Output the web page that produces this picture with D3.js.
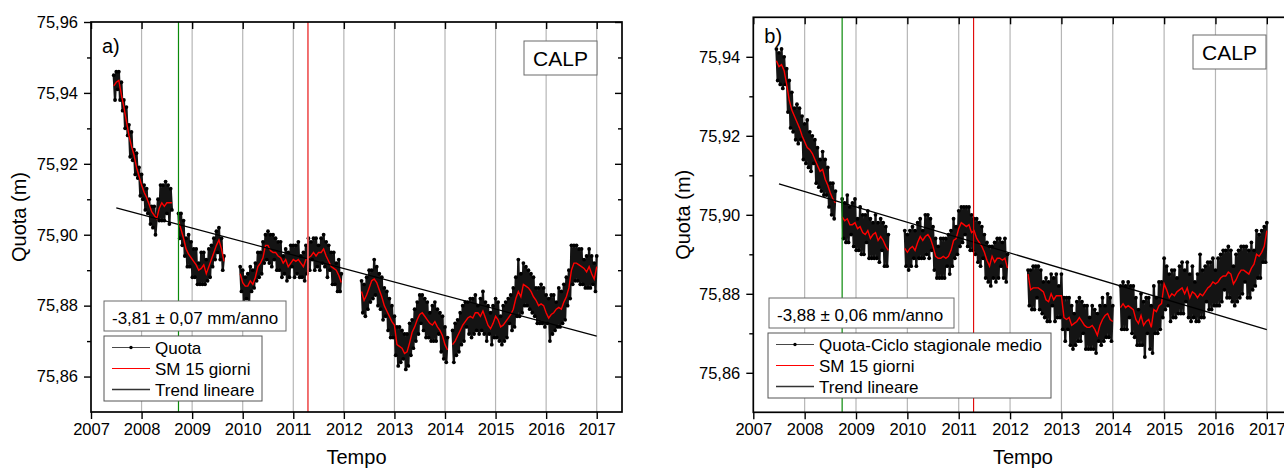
<!DOCTYPE html>
<html>
<head>
<meta charset="utf-8">
<script src="https://cdn.jsdelivr.net/npm/d3@7"></script>
<style>
  body { margin: 0; background: #fff; }
  svg text { font-family: "Liberation Sans", Arial, sans-serif; fill: #000; }
</style>
</head>
<body>
<svg id="fig" width="1284" height="470"></svg>
<script>
// Quote espresse in mm sopra 75,800 m
const QUOTA_BASE = 75.8;
const PASSO_SM = 0.05;    // anni tra due valori della media mobile
const PASSO_RAW = 0.025;  // anni tra due valori di quota

// Inizio (anno decimale) dei tratti continui di dati
const tratti = [2007.45, 2008.73, 2009.95, 2012.35, 2014.15];

// Pannello a) - media mobile 15 giorni (mm)
const smA = [
  [142,143,143.5,139.5,136,132,128,125,122.5,119,116.5,114,112,110.5,108.5,106.5,105.5,104.5,107.5,109,108,109,109,109],
  [104,101.5,99,96,94.5,93.5,92.5,91.5,90,90.5,91.5,89,91,93,95,97,98.5,96,92.5],
  [89,86.5,85.5,85.5,87,86,88,91,92,93.5,97,97,95.5,95,95,94,93.5,92,93,91,92,93,92.5,93,92,91,93,93.5,94,95,94,95,95,96,94,92.5,91,90.5,90,88.5,86.5],
  [84,81.5,83,85,87,87.5,86.5,84.5,82.5,80,78.5,77,75.5,74.5,69,68.5,68,66.5,67,69.5,72.5,74,76,77.5,78,77,76,75,74.5,75.5,74,73,71.5,69,67.5],
  [69,70,71.5,73,74.5,75.5,76.5,77,76.5,78,78,77,78.5,76.5,74.5,73.5,75,77,76,74,74.5,75.5,76.5,77.5,79,82,84,82.5,86,85.5,85,84,82.5,81.5,80,80.5,80,78,76.5,77.5,78,79,79.5,79,81,82.5,85,90,92,92,91.5,91,90.5,89.5,91,89,87.5,91]
];

// Pannello a) - quota (mm)
const quotaA = [
  [145,138,146,141,146,138,143,135,138,130,136,128,131,122,129,121,124,117,123,116,119,111,117,110,114,107,113,106,110,103,108,102,108,100,105,110,104,114,104,114,104,115,106,114,103,113,107],
  [106,99,106,97,104,94,99,91,100,91,98,88,96,88,96,86,92,86,95,86,95,86,93,87,96,88,97,91,99,93,101,95,102,93,99,90,94],
  [91,84,90,81,88,82,89,81,91,84,90,85,92,87,95,88,95,89,98,92,100,93,101,92,100,91,100,93,99,90,98,90,98,88,94,89,96,87,95,88,97,91,97,88,97,89,98,88,94,88,95,87,97,89,99,90,98,93,99,90,99,91,97,90,99,92,100,91,98,88,97,90,95,86,95,86,92,84,93,84,89],
  [87,78,86,77,88,79,90,81,90,82,93,83,91,80,89,79,88,76,85,77,84,73,82,71,80,71,77,66,74,63,74,64,73,65,72,62,72,63,75,66,76,68,79,70,81,72,83,75,83,73,82,71,81,71,78,70,80,70,81,70,79,72,78,67,77,65,74,64,71],
  [73,64,75,66,76,67,78,69,80,70,81,74,81,72,82,71,82,72,83,73,80,72,82,73,84,72,81,70,80,72,78,69,80,71,82,71,81,70,77,69,80,70,81,71,82,75,83,73,85,74,88,77,93,77,89,78,92,80,91,80,90,79,89,78,88,77,85,75,85,75,86,75,85,74,83,75,82,70,83,72,83,73,81,74,85,74,84,75,86,76,88,80,90,82,97,86,97,87,97,87,96,86,96,86,93,85,94,85,96,85,94,86,92,84,94]
];

// Pannello b) - media mobile 15 giorni (mm)
const smB = [
  [139,137.5,138,136.5,133,129,126.5,125,123.5,122,120,118.5,117,116.5,115.5,114,112.5,111,111.5,109,107.5,105.5,104,103],
  [99.5,98.5,99,97.5,97.5,98,96.5,97,95.5,95,96,94,95,95.5,93.5,94.5,93.5,92,91],
  [91.5,90.5,91.5,92,91,93,94.5,93.5,94.5,95,94,92,89.5,89,89,89.5,89,89.5,91,93.5,94,96.5,98,97.5,97,97.5,95.5,96,94,93,92,90.5,88.5,87,89.5,88,89,89,88.5,89,86.5],
  [85,81,81.5,81.5,81.5,81,80.5,78.5,78,80,78.5,79.5,79.5,79.5,74,73.5,74,72,72.5,73,74,73,72,71.5,71.5,72,71,69.5,72,73.5,74.5,75,73.5,73],
  [76.5,77.5,76.5,77,76.5,76,73.5,72.5,74.5,72,73,73.5,71.5,76,75.5,77,77.5,82.5,81,79,80,79.5,80.5,81,81.5,80,81.5,79,80.5,80,79,80,79.5,80.5,81.5,82,83,82.5,83,84,84.5,84.5,85.5,85,82.5,83.5,85,86,86,85.5,85,86.5,87.5,90,89.5,90.5,92,96]
];

// Pannello b) - quota meno ciclo stagionale medio (mm)
const quotaB = [
  [142,134,141,133,142,132,140,133,137,126,134,122,131,121,127,119,128,118,127,119,125,114,123,113,124,112,121,111,120,113,119,108,117,107,114,106,116,105,114,105,112,102,108,100,108,99,106],
  [104,94,103,93,105,93,102,95,103,92,104,91,99,91,102,90,100,90,100,93,101,89,99,89,98,89,100,89,98,88,99,91,98,87,97,87,95],
  [96,87,95,86,96,87,97,89,96,87,98,89,99,89,96,89,100,90,100,89,99,91,97,86,94,84,92,84,94,84,94,84,94,87,95,85,96,87,99,89,97,90,101,92,102,93,102,95,102,92,102,91,100,91,99,90,99,88,98,87,97,89,95,84,93,83,92,82,92,84,93,83,94,84,94,87,93,84,94,83,90],
  [86,77,86,76,87,76,87,79,87,76,86,75,83,74,84,73,83,73,85,77,84,73,85,74,82,74,85,71,79,68,79,71,79,67,77,66,75,67,78,68,79,68,78,70,77,66,77,66,74,66,77,66,76,65,75,68,77,67,79,68,77,69,80,69,79,68,77],
  [82,71,83,71,82,71,83,74,82,70,82,69,79,67,76,67,80,67,78,64,79,70,79,66,77,65,82,70,79,70,83,71,83,74,89,76,87,77,85,73,86,74,86,74,84,75,87,75,88,75,86,78,88,74,85,73,87,74,83,73,85,73,90,74,86,74,87,78,88,76,88,76,89,77,86,77,89,77,90,78,91,81,91,79,92,79,91,78,87,77,90,78,91,79,92,80,92,83,92,79,91,79,93,81,91,82,96,84,95,84,96,88,97,88,98]
];

// Trend lineare: quota iniziale (m) e velocità (mm/anno)
const trendInizio = 2007.5, trendFine = 2017.0;
const trendQuotaA = 75.9076, velocitaA = -3.81, erroreA = 0.07;
const trendQuotaB = 75.9078, velocitaB = -3.88, erroreB = 0.06;

// Linee verticali di riferimento
const eventoVerde = 2008.73, eventoRosso = 2011.29;

const anniTick = [2007,2008,2009,2010,2011,2012,2013,2014,2015,2016,2017];
const yTickA = [75.86,75.88,75.90,75.92,75.94,75.96];
const yMinoriA = [75.87,75.89,75.91,75.93,75.95];
const yTickB = [75.86,75.88,75.90,75.92,75.94];
const yMinoriB = [75.87,75.89,75.91,75.93];

const svg = d3.select("#fig");
const virgola = v => d3.format(".2f")(v).replace("\u2212", "-").replace(".", ",");
const mm2m = v => QUOTA_BASE + v / 1000;

function pannello(c) {
  const g = svg.append("g");
  const x = d3.scaleLinear().domain([2007, 2017.5]).range([c.left, c.right]);
  const y = d3.scaleLinear().domain(c.yDom).range([c.bottom, c.top]);

  // griglia verticale sugli anni
  g.append("g").selectAll("line").data(anniTick.slice(1)).join("line")
    .attr("x1", d => x(d)).attr("x2", d => x(d))
    .attr("y1", c.top).attr("y2", c.bottom)
    .attr("stroke", "#b6b6b6").attr("stroke-width", 1.2);

  g.append("clipPath").attr("id", "clip" + c.id).append("rect")
    .attr("x", c.left).attr("y", c.top)
    .attr("width", c.right - c.left).attr("height", c.bottom - c.top);
  const area = g.append("g").attr("clip-path", `url(#clip${c.id})`);

  // quota: linea con punti
  c.quota.forEach((seg, s) => {
    const pts = seg.map((v, i) => [tratti[s] + i * PASSO_RAW, mm2m(v)]);
    area.append("path").datum(pts)
      .attr("d", d3.line().x(d => x(d[0])).y(d => y(d[1])))
      .attr("fill", "none").attr("stroke", "#141414").attr("stroke-width", 2.3)
      .attr("stroke-linejoin", "round");
    area.append("g").selectAll("circle").data(pts).join("circle")
      .attr("cx", d => x(d[0])).attr("cy", d => y(d[1]))
      .attr("r", 1.9).attr("fill", "#000");
  });

  // media mobile 15 giorni
  c.sm.forEach((seg, s) => {
    const pts = seg.map((v, i) => [tratti[s] + i * PASSO_SM, mm2m(v)]);
    area.append("path").datum(pts)
      .attr("d", d3.line().x(d => x(d[0])).y(d => y(d[1])))
      .attr("fill", "none").attr("stroke", "#ff0000").attr("stroke-width", 1.4);
  });

  // trend lineare
  const qFine = c.trendQuota + c.velocita * (trendFine - trendInizio) / 1000;
  area.append("line")
    .attr("x1", x(trendInizio)).attr("y1", y(c.trendQuota))
    .attr("x2", x(trendFine)).attr("y2", y(qFine))
    .attr("stroke", "#000").attr("stroke-width", 1.3);

  // linee verticali di riferimento
  g.append("line").attr("x1", x(eventoVerde)).attr("x2", x(eventoVerde))
    .attr("y1", c.top).attr("y2", c.bottom)
    .attr("stroke", "#0a8a0a").attr("stroke-width", 1.2);
  g.append("line").attr("x1", x(eventoRosso)).attr("x2", x(eventoRosso))
    .attr("y1", c.top).attr("y2", c.bottom)
    .attr("stroke", c.coloreRosso).attr("stroke-width", c.spessoreRosso);

  // assi
  const stile = sel => {
    sel.attr("font-family", null).attr("font-size", null);
    sel.select(".domain").remove();
    sel.selectAll(".tick line").attr("stroke", "#000").attr("stroke-width", 1.4);
    sel.selectAll(".tick text").style("font-size", "16.5px");
  };
  g.append("g").attr("transform", `translate(0,${c.bottom})`)
    .call(d3.axisBottom(x).tickValues(anniTick).tickFormat(d3.format("d")).tickSize(7).tickPadding(4))
    .call(stile);
  g.append("g").attr("transform", `translate(0,${c.top})`)
    .call(d3.axisBottom(x).tickValues(anniTick).tickFormat("").tickSize(7))
    .call(stile);
  g.append("g").attr("transform", `translate(${c.left},0)`)
    .call(d3.axisLeft(y).tickValues(c.yTick).tickFormat(virgola).tickSize(7).tickPadding(6))
    .call(stile);
  g.append("g").attr("transform", `translate(${c.left},0)`)
    .call(d3.axisLeft(y).tickValues(c.yMinori).tickFormat("").tickSize(4))
    .call(stile);
  g.append("g").attr("transform", `translate(${c.right},0)`)
    .call(d3.axisLeft(y).tickValues(c.yTick).tickFormat("").tickSize(7))
    .call(stile);
  g.append("g").attr("transform", `translate(${c.right},0)`)
    .call(d3.axisLeft(y).tickValues(c.yMinori).tickFormat("").tickSize(4))
    .call(stile);

  // cornice
  g.append("rect").attr("x", c.left).attr("y", c.top)
    .attr("width", c.right - c.left).attr("height", c.bottom - c.top)
    .attr("fill", "none").attr("stroke", "#000").attr("stroke-width", 1.7);

  // titoli degli assi
  g.append("text").attr("x", (c.left + c.right) / 2).attr("y", 464)
    .attr("text-anchor", "middle").style("font-size", "20px").text("Tempo");
  g.append("text")
    .attr("transform", `translate(${c.yTitleX},${(c.top + c.bottom) / 2}) rotate(-90)`)
    .attr("text-anchor", "middle").style("font-size", "20px").text("Quota (m)");

  // etichetta del pannello
  g.append("text").attr("x", c.left + 11).attr("y", c.letteraY)
    .style("font-size", "20px").text(c.lettera);

  // riquadro stazione
  g.append("rect").attr("x", c.calp[0]).attr("y", c.calp[1])
    .attr("width", 73).attr("height", 34)
    .attr("fill", "#fff").attr("stroke", "#6a6a6a").attr("stroke-width", 1);
  g.append("text").attr("x", c.calp[0] + 36.5).attr("y", c.calp[1] + 25)
    .attr("text-anchor", "middle").style("font-size", "21px").text("CALP");

  // riquadro velocità
  const [vx, vy, vw] = c.boxVel;
  g.append("rect").attr("x", vx).attr("y", vy).attr("width", vw).attr("height", 30)
    .attr("fill", "#fff").attr("stroke", "#6a6a6a").attr("stroke-width", 1);
  g.append("text").attr("x", vx + 8).attr("y", vy + 23).style("font-size", "17px")
    .text(`${virgola(c.velocita)} \u00B1 ${virgola(c.errore)} mm/anno`);

  // legenda
  const [lx, ly, lw] = c.legenda;
  g.append("rect").attr("x", lx).attr("y", ly).attr("width", lw).attr("height", 65)
    .attr("fill", "#fff").attr("stroke", "#555").attr("stroke-width", 1);
  const voci = [
    { t: c.nomeSerie, col: "#333", w: 0.9, punto: true },
    { t: "SM 15 giorni", col: "#ff0000", w: 1.2 },
    { t: "Trend lineare", col: "#333", w: 1.6 }
  ];
  voci.forEach((v, i) => {
    const yy = ly + 11.5 + i * 21;
    g.append("line").attr("x1", lx + 8).attr("x2", lx + 46).attr("y1", yy).attr("y2", yy)
      .attr("stroke", v.col).attr("stroke-width", v.w);
    if (v.punto) g.append("circle").attr("cx", lx + 27).attr("cy", yy).attr("r", 1.7).attr("fill", "#000");
    g.append("text").attr("x", lx + 51).attr("y", yy + 6).style("font-size", "17px").text(v.t);
  });
}

pannello({
  id: "a", lettera: "a)", letteraY: 53, left: 91, right: 622, top: 22, bottom: 412,
  yDom: [75.85, 75.96], yTick: yTickA, yMinori: yMinoriA, yTitleX: 26,
  sm: smA, quota: quotaA,
  trendQuota: trendQuotaA, velocita: velocitaA, errore: erroreA,
  coloreRosso: "#f06262", spessoreRosso: 1.8,
  calp: [524, 41], boxVel: [104, 301, 182], legenda: [104, 336, 158],
  nomeSerie: "Quota"
});

pannello({
  id: "b", lettera: "b)", letteraY: 43, left: 753.3, right: 1292.5, top: 17.3, bottom: 412.3,
  yDom: [75.85, 75.95], yTick: yTickB, yMinori: yMinoriB, yTitleX: 690,
  sm: smB, quota: quotaB,
  trendQuota: trendQuotaB, velocita: velocitaB, errore: erroreB,
  coloreRosso: "#e00000", spessoreRosso: 1.1,
  calp: [1193, 35], boxVel: [769, 298, 185], legenda: [768, 333, 283],
  nomeSerie: "Quota-Ciclo stagionale medio"
});
</script>
</body>
</html>
